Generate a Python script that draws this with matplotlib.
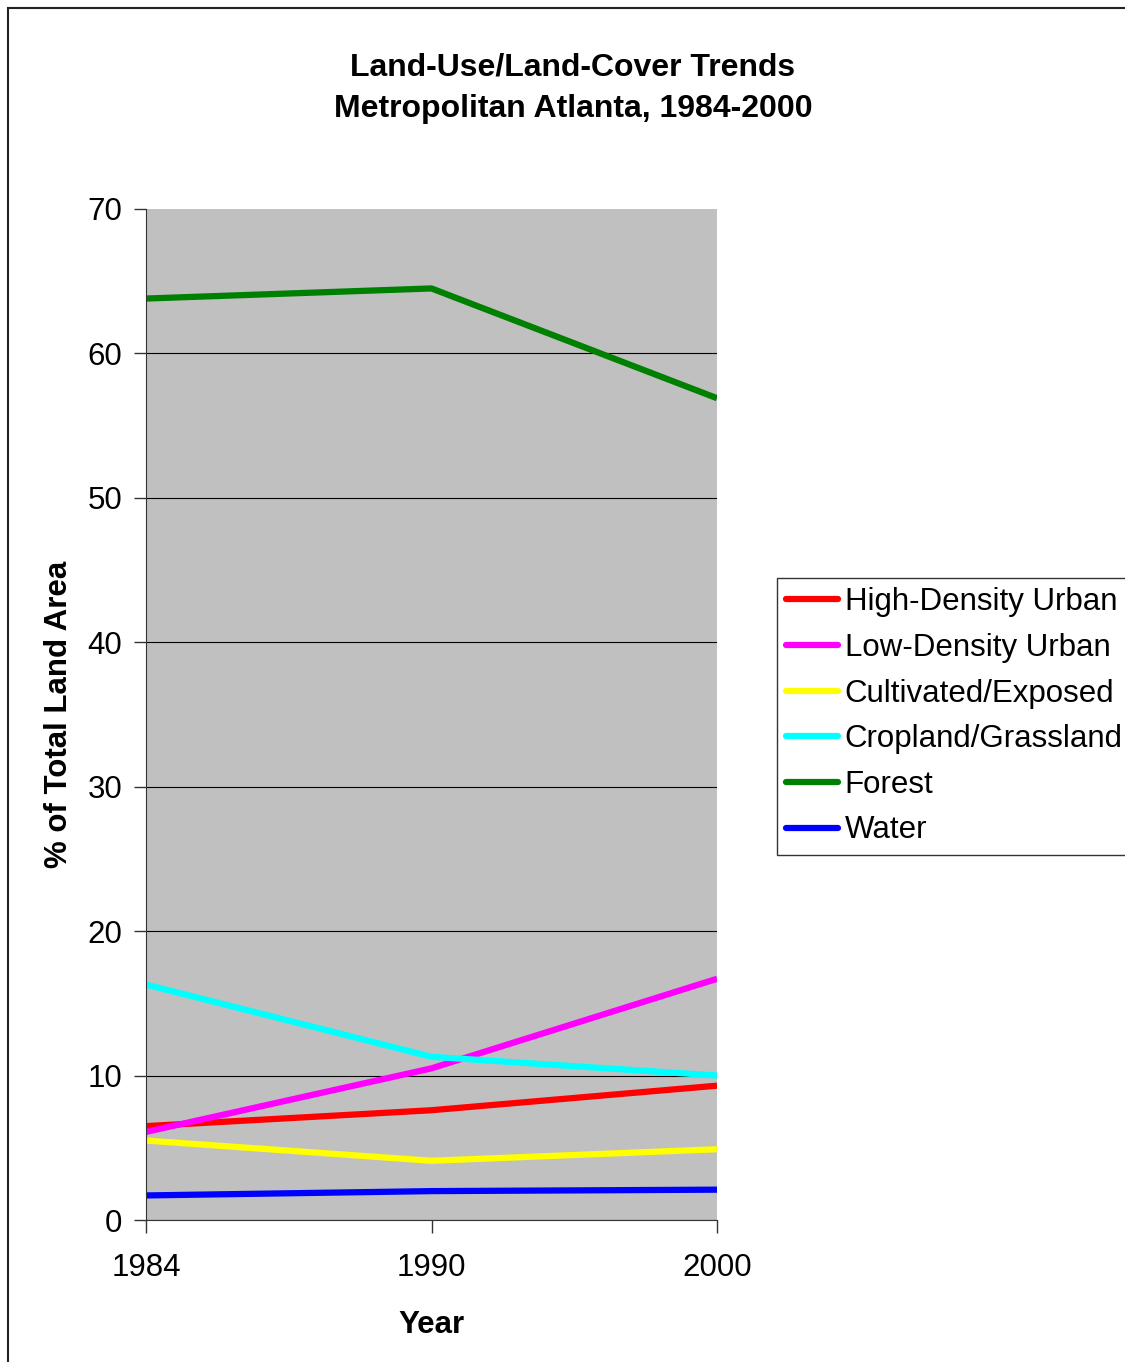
import matplotlib
matplotlib.use("Agg")
import matplotlib.pyplot as plt
from matplotlib.patches import Rectangle

# data (% of total land area)
years = ["1984", "1990", "2000"]
high_density = [6.5, 7.6, 9.3]
low_density = [6.1, 10.5, 16.7]
cultivated = [5.5, 4.1, 4.9]
cropland = [16.3, 11.3, 10.0]
forest = [63.8, 64.5, 56.9]
water = [1.7, 2.0, 2.1]

series = [
    ("High-Density Urban", high_density, "#ff0000"),
    ("Low-Density Urban", low_density, "#ff00ff"),
    ("Cultivated/Exposed", cultivated, "#ffff00"),
    ("Cropland/Grassland", cropland, "#00ffff"),
    ("Forest", forest, "#008000"),
    ("Water", water, "#0000ff"),
]

plt.rcParams['font.family'] = ['Liberation Sans', 'DejaVu Sans']

W, H = 1125, 1362
fs = 22.5
fig = plt.figure(figsize=(W / 100, H / 100), dpi=100)

# outer chart border (cut off on right and bottom)
fig.patches.append(Rectangle((8 / W, -0.01), 1.1, 1 - 8 / H + 0.01,
                             transform=fig.transFigure, fill=False,
                             edgecolor="#222222", linewidth=1.5))

ax = fig.add_axes([146 / W, (H - 1220) / H, (717 - 146) / W, (1220 - 209) / H])
ax.set_facecolor("#c0c0c0")

x = list(range(len(years)))
for name, vals, col in series:
    ax.plot(x, vals, color=col, linewidth=4.5, label=name, solid_capstyle="butt")

ax.set_xlim(0, 2)
ax.set_ylim(0, 70)
ax.set_yticks(range(0, 71, 10))
ax.set_xticks(x)
ax.set_xticklabels(years)
ax.yaxis.grid(True, color="black", linewidth=0.8)
ax.set_axisbelow(True)
ax.get_ygridlines()[-1].set_visible(False)

for s in ["top", "right"]:
    ax.spines[s].set_visible(False)
ax.spines["left"].set_color("#333333")
ax.spines["bottom"].set_color("#333333")
ax.tick_params(axis="both", labelsize=fs, length=9, width=1, color="#333333", direction="out")
ax.tick_params(axis="y", pad=8)
ax.tick_params(axis="x", pad=15)

ax.set_ylabel("% of Total Land Area", fontsize=fs, fontweight="bold", labelpad=10)
ax.set_xlabel("Year", fontsize=fs, fontweight="bold", labelpad=19)

fig.text(573 / W, 1 - 67 / H, "Land-Use/Land-Cover Trends", ha="center", va="center",
         fontsize=23, fontweight="bold")
fig.text(573 / W, 1 - 109 / H, "Metropolitan Atlanta, 1984-2000", ha="center", va="center",
         fontsize=23, fontweight="bold")

leg = fig.legend(loc="upper left", bbox_to_anchor=(777 / W, 1 - 578 / H),
                 fontsize=fs, frameon=True, fancybox=False, handlelength=1.65,
                 handletextpad=0.22, labelspacing=0.5, borderpad=0.3,
                 borderaxespad=0)
leg.get_frame().set_edgecolor("black")
leg.get_frame().set_linewidth(1)
for h in leg.get_lines():
    h.set_linewidth(4.5)
    h.set_solid_capstyle("round")

fig.savefig("out.png", dpi=100)
